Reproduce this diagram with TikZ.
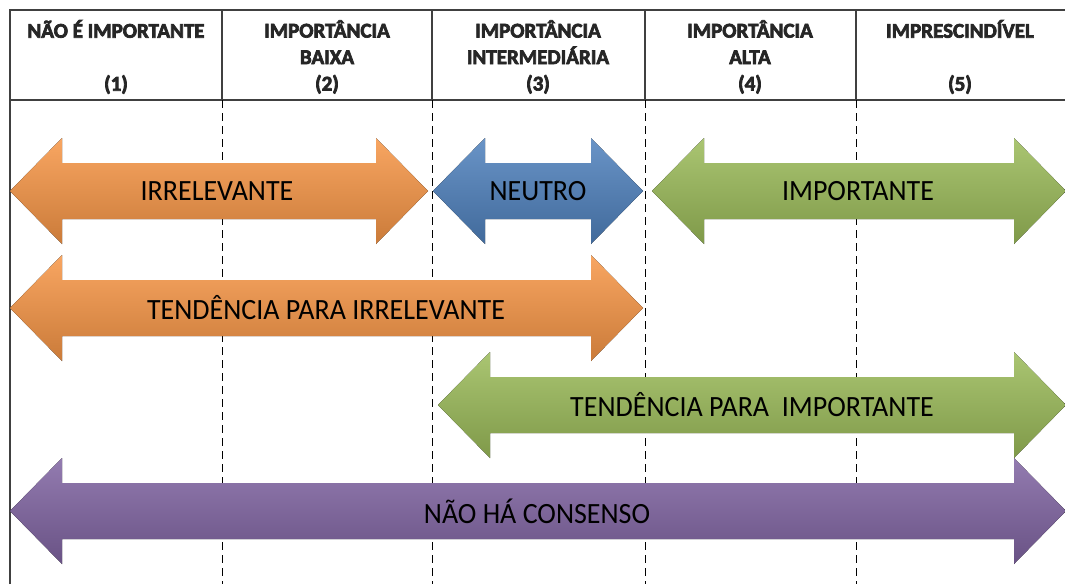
\documentclass[tikz,border=0pt]{standalone}
\usepackage{fontspec}
\setmainfont{Carlito}
\usetikzlibrary{arrows.meta}

\definecolor{orng}{HTML}{F79646}
\definecolor{blu}{HTML}{4F81BD}
\definecolor{grn}{HTML}{9BBB59}
\definecolor{purp}{HTML}{8064A2}

% heavier strokes for the header text
\newcommand{\hdrbold}{\special{pdf:literal direct 2 Tr 0.7 w}}

\tikzset{
  arr/.style={draw=none, top color=#1!85!white, middle color=#1, bottom color=#1!82!black},
  lbl/.style={font=\fontsize{28}{32}\selectfont, text=black, yscale=1.05},
  hdr/.style={font=\bfseries\fontsize{21}{26.5}\selectfont\hdrbold, align=center, text=black!85},
  sep/.style={dash pattern=on 8pt off 5pt, line width=0.8pt, black}
}

% left tip x, right tip x, centre y, colour
\newcommand{\dblarrow}[4]{%
\fill[arr=#4] (#1,#3) -- ({#1+52},{#3-53}) -- ({#1+52},{#3-28}) -- ({#2-52},{#3-28})
  -- ({#2-52},{#3-53}) -- (#2,#3) -- ({#2-52},{#3+53}) -- ({#2-52},{#3+28})
  -- ({#1+52},{#3+28}) -- ({#1+52},{#3+53}) -- cycle;}

\begin{document}
\begin{tikzpicture}[x=1pt,y=-1pt]
\useasboundingbox (0,0) rectangle (1065,584);
%%% header of the scale
\draw[line width=1.3pt, black!75] (10,584) -- (10,10) -- (1065,10);
\draw[line width=1.3pt, black!75] (10,100) -- (1065,100);
\foreach \x in {222,432,645,856}{
  \draw[line width=1.3pt, black!75] (\x,10) -- (\x,100);
  \draw[sep] (\x,100) -- (\x,584);
}
\node[hdr] (h1) at (116,57) {NÃO É IMPORTANTE\\ \mbox{}\\ (1)};
\node[hdr] (h2) at (327,57) {IMPORTÂNCIA\\ BAIXA\\ (2)};
\node[hdr] (h3) at (538,57) {IMPORTÂNCIA\\ INTERMEDIÁRIA\\ (3)};
\node[hdr] (h4) at (750,57) {IMPORTÂNCIA\\ ALTA\\ (4)};
\node[hdr] (h5) at (960,57) {IMPRESCINDÍVEL\\ \mbox{}\\ (5)};
%
%%% the arrows of the classification
\dblarrow{10}{428}{191}{orng}
\dblarrow{433}{643}{191}{blu}
\dblarrow{652}{1066}{191}{grn}
\dblarrow{10}{643}{308}{orng}
\dblarrow{438}{1066}{405}{grn}
\dblarrow{10}{1066}{511}{purp}
\node[lbl] (irr) at (217,191) {IRRELEVANTE};
\node[lbl] (neu) at (538,191) {NEUTRO};
\node[lbl] (imp) at (858,191) {IMPORTANTE};
\node[lbl] (tirr) at (326,308) {TENDÊNCIA PARA IRRELEVANTE};
\node[lbl] (timp) at (752,405) {TENDÊNCIA PARA\ \ IMPORTANTE};
\node[lbl] (cons) at (537,511) {NÃO HÁ CONSENSO};
\end{tikzpicture}
\end{document}
